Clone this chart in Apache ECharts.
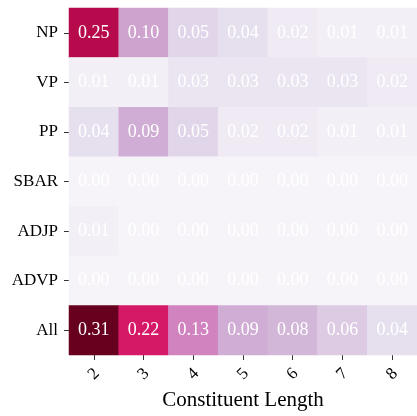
<!DOCTYPE html>
<html><head><meta charset="utf-8">
<script src="https://cdn.jsdelivr.net/npm/echarts@6/dist/echarts.min.js"></script>
<style>html,body{margin:0;padding:0;background:#fff}#c{width:417px;height:416px}</style>
</head><body><div id="c"></div>
<script>
const xCats = ['2','3','4','5','6','7','8'];
const yCats = ['NP','VP','PP','SBAR','ADJP','ADVP','All'];
const NP   = [0.25,0.10,0.05,0.04,0.02,0.01,0.01];
const VP   = [0.01,0.01,0.03,0.03,0.03,0.03,0.02];
const PP   = [0.04,0.09,0.05,0.02,0.02,0.01,0.01];
const SBAR = [0.00,0.00,0.00,0.00,0.00,0.00,0.00];
const ADJP = [0.01,0.00,0.00,0.00,0.00,0.00,0.00];
const ADVP = [0.00,0.00,0.00,0.00,0.00,0.00,0.00];
const All  = [0.31,0.22,0.13,0.09,0.08,0.06,0.04];
const rows = [NP,VP,PP,SBAR,ADJP,ADVP,All];
const data = [];
rows.forEach((r,yi)=>r.forEach((v,xi)=>data.push([xi,yi,v])));
const font = 'Liberation Serif, Times New Roman, serif';
const chart = echarts.init(document.getElementById('c'));
chart.setOption({
  animation:false,
  textStyle:{fontFamily:font},
  grid:{left:69,top:8,width:352,height:354,containLabel:false},
  xAxis:{type:'category',data:xCats,name:'Constituent Length',nameLocation:'middle',nameGap:31,
    nameTextStyle:{fontFamily:font,fontSize:21,color:'#000'},
    axisLine:{show:false},splitArea:{show:false},
    axisTick:{show:true,alignWithLabel:true,length:5,lineStyle:{color:'#333',width:1}},
    axisLabel:{rotate:45,align:'center',verticalAlign:'middle',fontFamily:font,fontSize:17,color:'#000',margin:19}},
  yAxis:{type:'category',data:yCats,inverse:true,
    axisLine:{show:false},splitArea:{show:false},
    axisTick:{show:true,alignWithLabel:true,length:5,lineStyle:{color:'#333',width:1}},
    axisLabel:{fontFamily:font,fontSize:17,color:'#000',margin:11}},
  visualMap:{show:false,min:0,max:0.31,dimension:2,
    inRange:{color:['#f7f4f9','#e7e1ef','#d4b9da','#c994c7','#df65b0','#e7298a','#ce1256','#980043','#67001f']}},
  series:[{type:'heatmap',data:data,
    label:{show:true,color:'#fff',fontFamily:font,fontSize:18,formatter:p=>p.value[2].toFixed(2)},
    itemStyle:{borderWidth:0}}]
});
</script></body></html>
